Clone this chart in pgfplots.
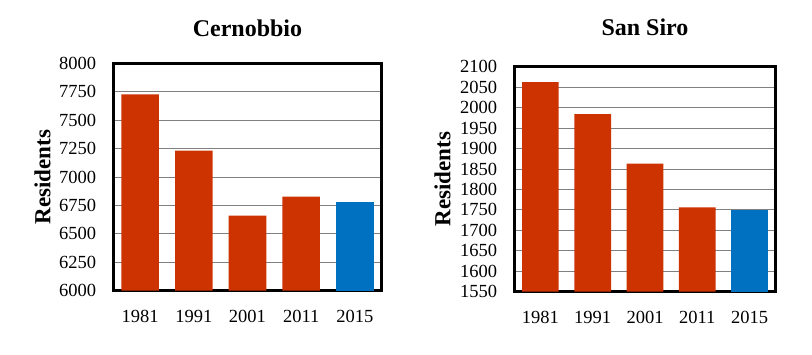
\documentclass[border=0pt]{standalone}
\usepackage{pgfplots}
\pgfplotsset{compat=1.18}
\usepackage{fontspec}
\setmainfont{Liberation Serif}
\definecolor{barred}{HTML}{CC3300}
\definecolor{barblue}{HTML}{0070C0}
\pgfplotsset{
 mystyle/.style={
  scale only axis, anchor=south west,
  ybar, bar width=0.7, bar shift=0pt,
  xmin=-0.5, xmax=4.5, xtick={0,...,4}, xticklabels={1981,1991,2001,2011,2015},
  major tick length=0pt,
  ymajorgrids, grid style={gray, line width=0.8pt},
  axis line style={line width=3.3pt},
  tick label style={font=\fontsize{18.5}{21}\selectfont},
  /pgf/number format/assume math mode=true,
  /pgf/number format/1000 sep={},
  yticklabel style={anchor=east, inner sep=0pt, xshift=-17pt},
  xticklabel style={anchor=north, inner sep=0pt, yshift=-19pt},
  title style={font=\fontsize{24}{27}\selectfont\bfseries, anchor=base, at={(0.5,1)}},
  ylabel style={font=\fontsize{23}{26}\selectfont\bfseries, anchor=base},
  ylabel={Residents},
 }
}
\begin{document}
\begin{tikzpicture}
\useasboundingbox (0,0) rectangle (812pt,354pt);
\begin{axis}[mystyle, at={(113.3pt,63.3pt)}, width=268.4pt, height=227.4pt,
  ymin=6000, ymax=8000, ytick={6000,6250,...,8000},
  title={Cernobbio}, title style={yshift=21pt},
  ylabel style={at={(axis description cs:-0.234,0.5)}}]
\addplot[fill=barred, draw=none] coordinates {(0,7727) (1,7232) (2,6660) (3,6827)};
\addplot[fill=barblue, draw=none] coordinates {(4,6780)};
\end{axis}
\begin{axis}[mystyle, at={(514.3pt,62.3pt)}, width=261.4pt, height=225pt,
  ymin=1550, ymax=2100, ytick={1550,1600,...,2100},
  title={San Siro}, title style={yshift=25pt},
  ylabel style={at={(axis description cs:-0.245,0.5)}}]
\addplot[fill=barred, draw=none] coordinates {(0,2062) (1,1984) (2,1863) (3,1756)};
\addplot[fill=barblue, draw=none] coordinates {(4,1750)};
\end{axis}
\end{tikzpicture}
\end{document}
